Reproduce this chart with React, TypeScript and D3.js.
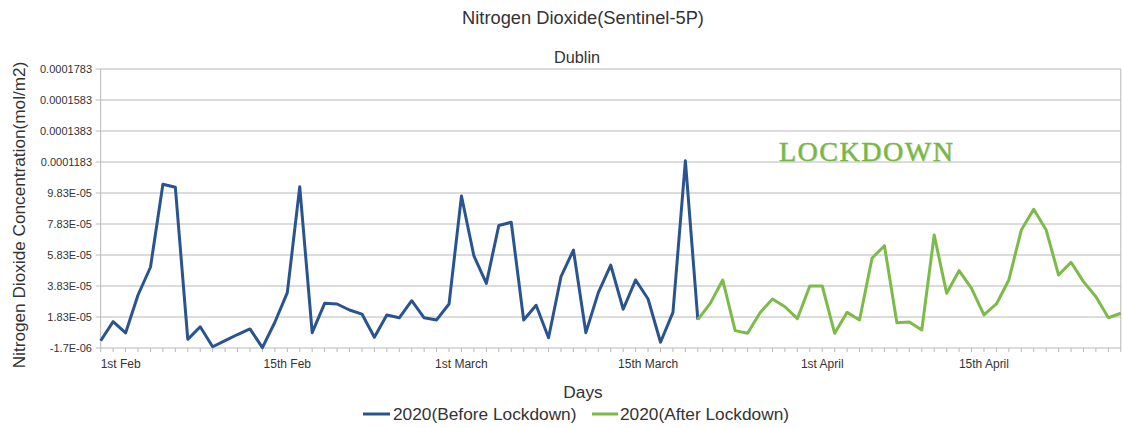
import React from "react";
import * as d3 from "d3";

const beforeValues: number[] = [
  0.30, 1.53, 0.80, 3.25, 5.04, 10.39, 10.20, 0.39, 1.20, -0.09,
  0.31, 0.70, 1.06, -0.15, 1.49, 3.40, 10.24, 0.82, 2.71, 2.67,
  2.28, 2.02, 0.52, 1.96, 1.78, 2.88, 1.78, 1.64, 2.67, 9.64,
  5.77, 4.00, 7.73, 7.94, 1.64, 2.59, 0.49, 4.43, 6.15, 0.82,
  3.40, 5.18, 2.33, 4.22, 2.99, 0.20, 2.13, 11.91, 1.66,
].map((v) => v * 1e-5);

const afterValues: number[] = [
  1.66, 2.71, 4.22, 0.95, 0.78, 2.11, 2.99, 2.49, 1.72, 3.83,
  3.83, 0.78, 2.13, 1.64, 5.62, 6.43, 1.46, 1.51, 0.99, 7.12,
  3.36, 4.82, 3.68, 1.96, 2.67, 4.22, 7.44, 8.78, 7.44, 4.54,
  5.36, 4.11, 3.14, 1.78, 2.07,
].map((v) => v * 1e-5);

const afterStart = 48;

const xLabels: { index: number; text: string }[] = [
  { index: 0, text: "1st Feb" },
  { index: 15, text: "15th Feb" },
  { index: 29, text: "1st March" },
  { index: 44, text: "15th March" },
  { index: 58, text: "1st April" },
  { index: 71, text: "15th April" },
];

const yTickValues: number[] = [
  -0.0000017, 0.0000183, 0.0000383, 0.0000583, 0.0000783, 0.0000983,
  0.0001183, 0.0001383, 0.0001583, 0.0001783,
];
const yTickLabels: string[] = [
  "-1.7E-06", "1.83E-05", "3.83E-05", "5.83E-05", "7.83E-05", "9.83E-05",
  "0.0001183", "0.0001383", "0.0001583", "0.0001783",
];

const seriesNames = ["2020(Before Lockdown)", "2020(After Lockdown)"];
const blue = "#2a5490";
const green = "#7cbb48";

export default function App() {
  const W = 1123;
  const H = 428;
  const left = 100.7;
  const right = 1120.8;
  const top = 69;
  const bottom = 348;
  const n = beforeValues.length + afterValues.length - 1;
  const x = d3.scaleLinear().domain([0, n - 1]).range([left, right]);
  const y = d3
    .scaleLinear()
    .domain([yTickValues[0], yTickValues[yTickValues.length - 1]])
    .range([bottom, top]);

  const line = d3
    .line<number>()
    .x((_, i) => x(i))
    .y((d) => y(d));
  const lineAfter = d3
    .line<number>()
    .x((_, i) => x(i + afterStart))
    .y((d) => y(d));

  const font = "'Liberation Sans', Arial, sans-serif";
  const grid = "#b8b8b8";

  return (
    <svg
      width={W}
      height={H}
      style={{ position: "absolute", left: 0, top: 0, background: "#fff" }}
      fontFamily={font}
    >
      <rect x={0} y={0} width={W} height={H} fill="#fff" />
      <text x={583} y={24} textAnchor="middle" fontSize={18.3} fill="#333">
        Nitrogen Dioxide(Sentinel-5P)
      </text>
      <text x={577} y={63} textAnchor="middle" fontSize={16.3} fill="#333">
        Dublin
      </text>

      {yTickValues.map((v, i) => (
        <g key={i}>
          <line x1={left} x2={right} y1={y(v)} y2={y(v)} stroke={grid} strokeWidth={1} />
          <line x1={left - 5} x2={left} y1={y(v)} y2={y(v)} stroke={grid} strokeWidth={1} />
          <text x={92} y={y(v) + 4} textAnchor="end" fontSize={11} fill="#333">
            {yTickLabels[i]}
          </text>
        </g>
      ))}
      <line x1={left} x2={left} y1={top} y2={bottom} stroke={grid} />
      <line x1={right} x2={right} y1={top} y2={bottom} stroke={grid} />
      {d3.range(n).map((i) => (
        <line key={i} x1={x(i)} x2={x(i)} y1={bottom} y2={bottom + 4} stroke={grid} />
      ))}
      {xLabels.map((l) => (
        <text
          key={l.text}
          x={x(l.index)}
          y={368}
          textAnchor={l.index === 0 ? "start" : "middle"}
          fontSize={12}
          fill="#333"
        >
          {l.text}
        </text>
      ))}

      <text
        transform={`translate(24.5, 215) rotate(-90)`}
        textAnchor="middle"
        fontSize={17.2}
        fill="#333"
      >
        Nitrogen Dioxide Concentration(mol/m2)
      </text>
      <text x={583} y={398} textAnchor="middle" fontSize={17.3} fill="#333">
        Days
      </text>

      <path d={line(beforeValues) || ""} fill="none" stroke={blue} strokeWidth={3} strokeLinejoin="round" />
      <path d={lineAfter(afterValues) || ""} fill="none" stroke={green} strokeWidth={3} strokeLinejoin="round" />

      <text
        x={779}
        y={161}
        fontFamily="'Liberation Serif', 'DejaVu Serif', serif"
        fontSize={28}
        fill="#c9c9c9"
        textLength={174}
        opacity={0.5}
        transform="translate(1.2,1.2)"
      >
        LOCKDOWN
      </text>
      <text
        x={779}
        y={161}
        fontFamily="'Liberation Serif', 'DejaVu Serif', serif"
        fontSize={28}
        fill="#77b843"
        stroke="#77b843"
        strokeWidth={0.4}
        textLength={174}
      >
        LOCKDOWN
      </text>

      <line x1={363} x2={390} y1={414} y2={414} stroke={blue} strokeWidth={3} />
      <text x={393} y={420} fontSize={17.3} fill="#333">
        {seriesNames[0]}
      </text>
      <line x1={592} x2={618} y1={414} y2={414} stroke={green} strokeWidth={3} />
      <text x={620} y={420} fontSize={17.3} fill="#333">
        {seriesNames[1]}
      </text>
    </svg>
  );
}
